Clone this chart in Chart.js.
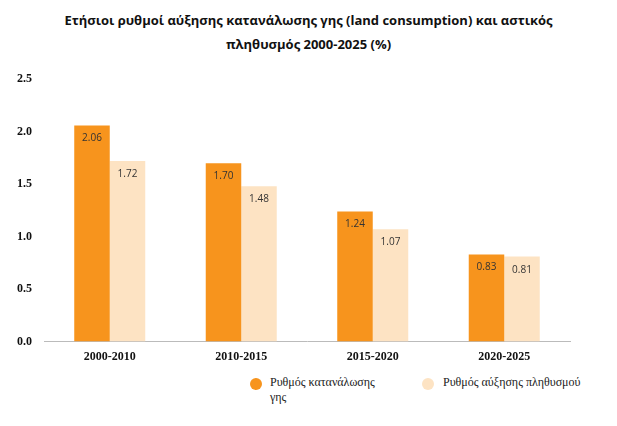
<!DOCTYPE html>
<html><head><meta charset="utf-8">
<script src="https://cdn.jsdelivr.net/npm/chart.js@4"></script>
<style>
body{margin:0;background:#fff;width:617px;height:426px;position:relative;font-family:"Liberation Serif",serif}
#title{position:absolute;left:0;width:617px;top:8px;text-align:center;font:bold 13px "Open Sans",sans-serif;line-height:24px;color:#111}
#c{position:absolute;left:0;top:60px}
.leg{position:absolute;font-size:12px;color:#222}
.dot{position:absolute;width:12px;height:12px;border-radius:50%}
</style></head><body>
<div id="title">Ετήσιοι ρυθμοί αύξησης κατανάλωσης γης (land consumption)  και αστικός<br>πληθυσμός 2000-2025 (%)</div>
<canvas id="c" width="600" height="312"></canvas>
<div class="dot" style="left:250px;top:378px;background:#F7941D"></div>
<div class="leg" style="left:270px;top:375px;width:112px;line-height:15px">Ρυθμός κατανάλωσης γης</div>
<div class="dot" style="left:422px;top:378px;background:#FDE3C3"></div>
<div class="leg" style="left:443px;top:375px">Ρυθμός αύξησης πληθυσμού</div>
<script>
const categories = ["2000-2010", "2010-2015", "2015-2020", "2020-2025"];
const landConsumption = [2.06, 1.70, 1.24, 0.83];
const population = [1.72, 1.48, 1.07, 0.81];
const yTicks = [0, 0.5, 1.0, 1.5, 2.0, 2.5];

const valueLabels = {
  id: "valueLabels",
  afterDatasetsDraw(chart) {
    const ctx = chart.ctx;
    ctx.save();
    ctx.font = "10px 'Open Sans', sans-serif";
    ctx.fillStyle = "#333";
    ctx.textAlign = "center";
    chart.data.datasets.forEach((ds, i) => {
      chart.getDatasetMeta(i).data.forEach((bar, j) => {
        ctx.fillText(ds.data[j].toFixed(2), bar.x, bar.y + 16);
      });
    });
    ctx.restore();
  }
};

new Chart(document.getElementById("c"), {
  type: "bar",
  data: {
    labels: categories,
    datasets: [
      { label: "Ρυθμός κατανάλωσης γης", data: landConsumption, backgroundColor: "#F7941D" },
      { label: "Ρυθμός αύξησης πληθυσμού", data: population, backgroundColor: "#FDE3C3" }
    ]
  },
  options: {
    responsive: false,
    animation: false,
    layout: { padding: { left: 5, right: 30, top: 12 } },
    plugins: { legend: { display: false }, tooltip: { enabled: false } },
    datasets: { bar: { categoryPercentage: 0.54, barPercentage: 1 } },
    scales: {
      x: {
        grid: { display: false, drawTicks: false },
        border: { color: "#bbb" },
        ticks: { color: "#111", padding: 8, font: { family: "Liberation Serif", size: 12, weight: "bold" } }
      },
      y: {
        min: 0, max: 2.5,
        afterBuildTicks: a => { a.ticks = yTicks.map(v => ({ value: v })); },
        grid: { display: false, drawTicks: false },
        border: { display: false },
        ticks: { color: "#111", padding: 12, callback: v => v.toFixed(1), font: { family: "Liberation Serif", size: 12, weight: "bold" } }
      }
    }
  },
  plugins: [valueLabels]
});
</script>
</body></html>
